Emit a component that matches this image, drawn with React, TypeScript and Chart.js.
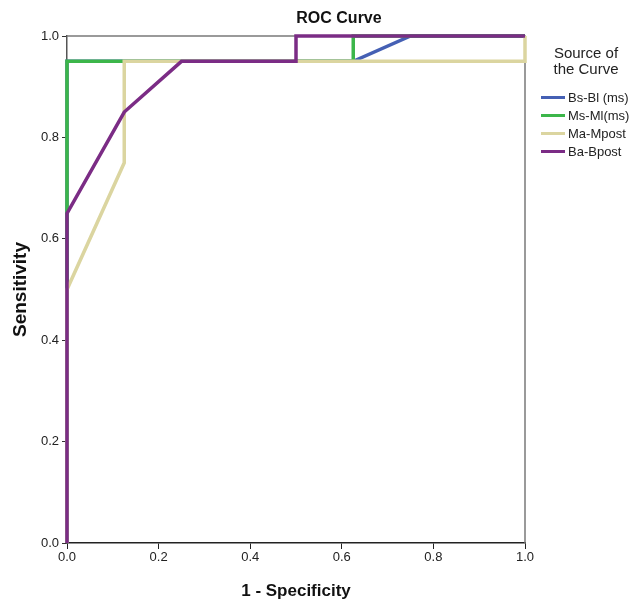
import React, { useEffect, useRef } from "react";
import { Chart, registerables } from "chart.js";

Chart.register(...registerables);

const seriesNames = ["Bs-Bl (ms)", "Ms-Ml(ms)", "Ma-Mpost", "Ba-Bpost"];
const seriesColors = ["#4560b4", "#3cb64a", "#dbd5a0", "#7b2c85"];

const bsBlX = [0, 0, 0.625, 0.75, 1];
const bsBlY = [0, 0.95, 0.95, 1, 1];
const msMlX = [0, 0, 0.625, 0.625, 1];
const msMlY = [0, 0.95, 0.95, 1, 1];
const maMpostX = [0, 0, 0.125, 0.125, 1, 1];
const maMpostY = [0, 0.5, 0.75, 0.95, 0.95, 1];
const baBpostX = [0, 0, 0.125, 0.25, 0.5, 0.5, 1];
const baBpostY = [0, 0.65, 0.85, 0.95, 0.95, 1, 1];

const tickValues = [0, 0.2, 0.4, 0.6, 0.8, 1.0];

const toPts = (xs: number[], ys: number[]) => xs.map((x, i) => ({ x, y: ys[i] }));

const FONT = "'Liberation Sans', Arial, sans-serif";

export default function App() {
  const ref = useRef<HTMLCanvasElement>(null);
  useEffect(() => {
    document.body.style.margin = "0";
    const frame = {
      id: "frame",
      beforeDatasetsDraw(chart: any) {
        const { ctx, chartArea } = chart;
        ctx.save();
        ctx.strokeStyle = "#7a7a7a";
        ctx.lineWidth = 1.5;
        ctx.beginPath();
        ctx.moveTo(chartArea.left, chartArea.top);
        ctx.lineTo(chartArea.right, chartArea.top);
        ctx.lineTo(chartArea.right, chartArea.bottom);
        ctx.stroke();
        ctx.restore();
      },
    };
    const all = [
      toPts(bsBlX, bsBlY),
      toPts(msMlX, msMlY),
      toPts(maMpostX, maMpostY),
      toPts(baBpostX, baBpostY),
    ];
    // draw order: purple on top, then tan, green, blue
    const drawOrder = [3, 2, 1, 0];
    const chart = new Chart(ref.current!, {
      type: "line",
      data: {
        datasets: drawOrder.map((i) => ({
          label: seriesNames[i],
          data: all[i],
          borderColor: seriesColors[i],
          backgroundColor: seriesColors[i],
          borderWidth: 3.5,
          pointRadius: 0,
          tension: 0,
          fill: false,
          clip: 5,
        })),
      },
      options: {
        responsive: false,
        animation: false,
        layout: { padding: { top: 36, right: 114, left: 0, bottom: 0 } },
        plugins: { legend: { display: false }, title: { display: false }, tooltip: { enabled: false } },
        scales: {
          x: {
            type: "linear",
            min: 0,
            max: 1,
            afterFit: (s: any) => { s.height = 61; },
            afterBuildTicks: (s: any) => { s.ticks = tickValues.map((v) => ({ value: v })); },
            border: { color: "#222", width: 1.5 },
            grid: { drawOnChartArea: false, drawTicks: true, tickLength: 6, color: "#222" },
            ticks: { color: "#222", padding: 1, font: { family: FONT, size: 13 }, callback: (v: any) => Number(v).toFixed(1), maxRotation: 0 },
            title: { display: true, text: "1 - Specificity", color: "#111", font: { family: FONT, size: 17, weight: "bold" }, padding: { top: 0, bottom: 2 } },
          },
          y: {
            type: "linear",
            min: 0,
            max: 1,
            afterFit: (s: any) => { s.width = 67; },
            afterBuildTicks: (s: any) => { s.ticks = tickValues.map((v) => ({ value: v })); },
            border: { color: "#555", width: 1.5 },
            grid: { drawOnChartArea: false, drawTicks: true, tickLength: 5, color: "#333" },
            ticks: { color: "#222", padding: 3, font: { family: FONT, size: 13 }, callback: (v: any) => Number(v).toFixed(1) },
            title: { display: true, text: "Sensitivity", color: "#111", font: { family: FONT, size: 19, weight: "bold" }, padding: { top: 9, bottom: 0 } },
          },
        },
      },
      plugins: [frame],
    } as any);
    return () => chart.destroy();
  }, []);

  const legendYs = [97, 115, 133, 151];
  return (
    <div style={{ position: "relative", width: 639, height: 604, fontFamily: FONT }}>
      <canvas ref={ref} width={639} height={604} style={{ width: 639, height: 604, display: "block" }} />
      <div style={{ position: "absolute", left: 239, width: 200, top: 8, textAlign: "center", fontSize: 16, fontWeight: "bold", color: "#111", lineHeight: "20px" }}>
        ROC Curve
      </div>
      <div style={{ position: "absolute", left: 536, width: 100, top: 45, textAlign: "center", fontSize: 15, color: "#222", lineHeight: "16px" }}>
        <div>Source of</div>
        <div>the Curve</div>
      </div>
      {seriesNames.map((n, i) => (
        <div key={n} style={{ position: "absolute", left: 541, top: legendYs[i] - 9, height: 18, display: "flex", alignItems: "center" }}>
          <div style={{ width: 24, height: 3, background: seriesColors[i], marginRight: 3 }} />
          <span style={{ fontSize: 13, color: "#222" }}>{n}</span>
        </div>
      ))}
    </div>
  );
}
